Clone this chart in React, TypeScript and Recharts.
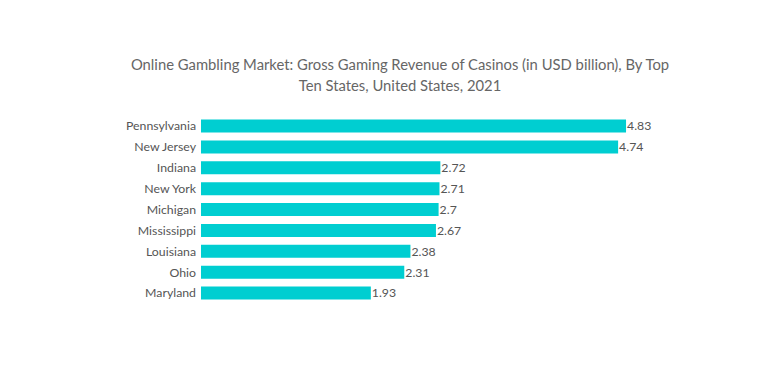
import React from "react";
import { BarChart, Bar, XAxis, YAxis, LabelList } from "recharts";

const states = ["Pennsylvania", "New Jersey", "Indiana", "New York", "Michigan", "Mississippi", "Louisiana", "Ohio", "Maryland"];
const revenue = [4.83, 4.74, 2.72, 2.71, 2.7, 2.67, 2.38, 2.31, 1.93];
const titleLines = [
  "Online Gambling Market: Gross Gaming Revenue of Casinos (in USD billion), By Top",
  "Ten States, United States, 2021",
];

const data = states.map((s, i) => ({ state: s, value: revenue[i] }));

const FONT = "Lato, 'Noto Sans', sans-serif";

export default function App() {
  return (
    <div style={{ position: "absolute", left: 0, top: 0, width: 760, height: 392, background: "#fff", fontFamily: FONT }}>
      <div style={{ position: "absolute", left: 0, top: 54, width: 800, textAlign: "center", color: "#666", fontSize: 14.8, lineHeight: "21px" }}>
        {titleLines.map((t, i) => (
          <div key={i}>{t}</div>
        ))}
      </div>
      <BarChart
        width={760}
        height={392}
        data={data}
        layout="vertical"
        margin={{ top: 115.5, right: 119, bottom: 88.5, left: 0 }}
        style={{ position: "absolute", left: 0, top: 0 }}
      >
        <XAxis type="number" domain={[0, 5]} hide />
        <YAxis
          type="category"
          dataKey="state"
          width={201}
          axisLine={false}
          tickLine={false}
          tickSize={0}
          tickMargin={5}
          interval={0}
          tick={{ fill: "#555", fontSize: 12.3, fontFamily: FONT }}
        />
        <Bar dataKey="value" fill="#00CED1" barSize={13} isAnimationActive={false}>
          <LabelList dataKey="value" position="right" offset={1} style={{ fill: "#555", fontSize: 12.3, fontFamily: FONT }} />
        </Bar>
      </BarChart>
    </div>
  );
}
